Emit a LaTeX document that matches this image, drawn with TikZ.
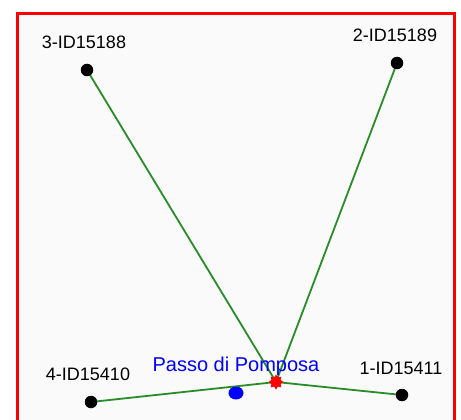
\documentclass[tikz,border=0pt]{standalone}
\usepackage{fontspec}
\setmainfont{Liberation Sans}
\usetikzlibrary{shapes.geometric,backgrounds}
\usepackage{xcolor}
\definecolor{edgegreen}{RGB}{40,140,40}
\definecolor{framered}{RGB}{250,0,0}

\begin{document}
\begin{tikzpicture}[
  x=1pt, y=-1pt,
  station/.style={circle, fill=black, inner sep=0pt, minimum size=12.5pt},
  idlabel/.style={font=\fontsize{18}{20}\selectfont, inner sep=0pt},
  link/.style={draw=edgegreen, line width=1.8pt}
]
\useasboundingbox (0,0) rectangle (461,420);
\clip (0,0) rectangle (461,420);

\node[station] (s3) at (87,70) {};
\node[station] (s2) at (397,63) {};
\node[station] (s4) at (91,402) {};
\node[station] (s1) at (402,395) {};
\node[ellipse, fill=blue, inner sep=0pt, minimum width=15pt, minimum height=13pt] (pass) at (236,393) {};
\node[star, star points=8, star point ratio=1.5, fill=red, inner sep=0pt, minimum size=15pt] (cross) at (276,382) {};

\node[idlabel] (l3) at (84,42) {3-ID15188};
\node[idlabel] (l2) at (395,35) {2-ID15189};
\node[idlabel] (l4) at (88,374) {4-ID15410};
\node[idlabel] (l1) at (401,368) {1-ID15411};
\node[idlabel, text=blue, font=\fontsize{20}{22}\selectfont] (lp) at (236,366) {Passo di Pomposa};

\begin{scope}[on background layer]
\fill[black!2] (17.5,13.5) rectangle (454,430);
\draw[framered, line width=3pt] (17.5,430) -- (17.5,13.5) -- (454,13.5) -- (454,430);
\draw[link] (s3.center) -- (cross.center);
\draw[link] (s2.center) -- (cross.center);
\draw[link] (s4.center) -- (cross.center);
\draw[link] (cross.center) -- (s1.center);
\end{scope}
\end{tikzpicture}
\end{document}
